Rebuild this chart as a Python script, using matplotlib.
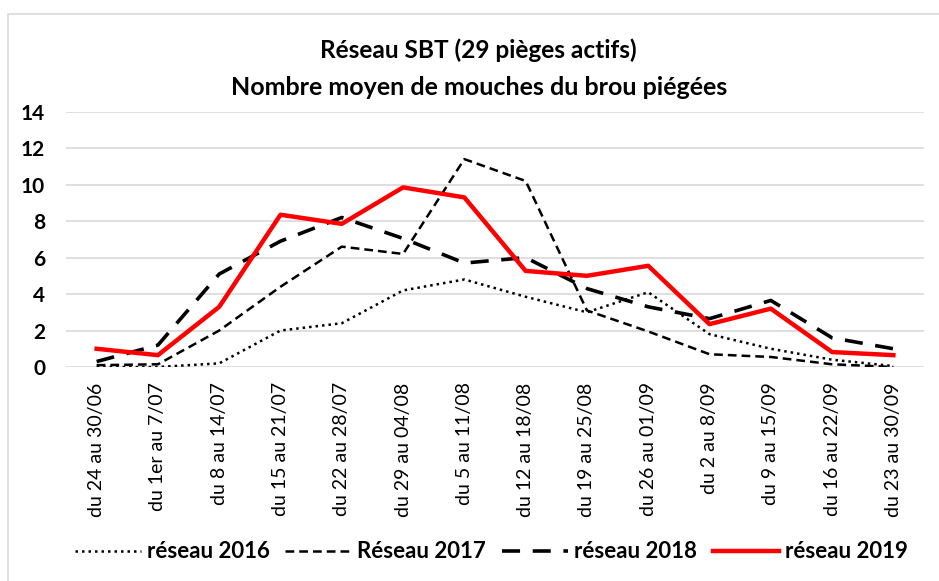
import matplotlib.pyplot as plt
from matplotlib.patches import Rectangle

plt.rcParams["font.family"] = ["Lato", "DejaVu Sans"]

weeks = [
    "du 24 au 30/06", "du 1er au 7/07", "du 8 au 14/07", "du 15 au 21/07",
    "du 22 au 28/07", "du 29 au 04/08", "du 5 au 11/08", "du 12 au 18/08",
    "du 19 au 25/08", "du 26 au 01/09", "du 2 au 8/09", "du 9 au 15/09",
    "du 16 au 22/09", "du 23 au 30/09",
]
reseau_2016 = [0.0, 0.0, 0.2, 2.0, 2.4, 4.2, 4.8, 3.85, 3.0, 4.1, 1.8, 1.0, 0.4, 0.05]
reseau_2017 = [0.1, 0.15, 2.0, 4.4, 6.6, 6.2, 11.4, 10.2, 3.1, 1.95, 0.7, 0.55, 0.15, 0.0]
reseau_2018 = [0.3, 1.2, 5.1, 6.9, 8.2, 7.05, 5.7, 6.0, 4.3, 3.3, 2.65, 3.65, 1.6, 1.0]
reseau_2019 = [1.0, 0.65, 3.3, 8.35, 7.85, 9.85, 9.3, 5.27, 5.0, 5.55, 2.35, 3.2, 0.82, 0.65]

fig = plt.figure(figsize=(9.39, 5.81), dpi=100)
fig.patches.append(Rectangle((8 / 939, -0.1), 1.2, 1 - 14 / 581 + 0.1,
                             transform=fig.transFigure, fill=False,
                             edgecolor="#d9d9d9", linewidth=1.2))

ax = fig.add_axes([66 / 939, 1 - 367 / 581, (924 - 66) / 939, (367 - 111.7) / 581])
x = range(len(weeks))

ax.plot(x, reseau_2016, color="black", linewidth=1.8, linestyle=(0, (1, 1.6)),
        label="réseau 2016")
ax.plot(x, reseau_2017, color="black", linewidth=1.8, linestyle=(0, (3.5, 2)),
        label="Réseau 2017")
ax.plot(x, reseau_2018, color="black", linewidth=2.6, linestyle=(0, (5, 3.5)),
        label="réseau 2018")
ax.plot(x, reseau_2019, color="#ff0000", linewidth=3.2, label="réseau 2019")

ax.set_xlim(-0.5, len(weeks) - 0.5)
ax.set_ylim(0, 14)
ax.set_yticks(range(0, 15, 2))
ax.set_xticks(list(x))
ax.set_xticklabels(weeks, rotation=90, fontsize=14)
for lab in ax.get_yticklabels():
    lab.set_fontweight("bold")
    lab.set_fontsize(15)
ax.tick_params(length=0)
ax.tick_params(axis="x", pad=11)
ax.tick_params(axis="y", pad=15)
ax.grid(axis="y", color="#d9d9d9", linewidth=1.2)
ax.set_axisbelow(True)
for s in ax.spines.values():
    s.set_visible(False)

fig.text(478 / 939, 1 - 50 / 581, "Réseau SBT (29 pièges actifs)", ha="center",
         va="center", fontsize=17.6, fontweight="bold")
fig.text(479 / 939, 1 - 87 / 581, "Nombre moyen de mouches du brou piégées", ha="center",
         va="center", fontsize=18, fontweight="bold")

fig.legend(loc="center", bbox_to_anchor=(0.523, 1 - 552 / 581), ncol=4, frameon=False,
           prop={"weight": "bold", "size": 16}, handlelength=3.0, handletextpad=0.25,
           columnspacing=0.7)

fig.savefig("out.png", dpi=100)
